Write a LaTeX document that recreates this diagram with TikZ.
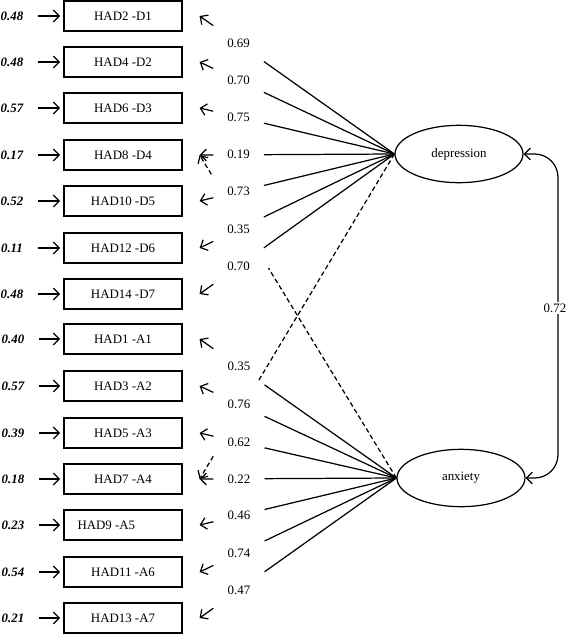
\documentclass[tikz,border=0pt]{standalone}
\usepackage{fontspec}
\setmainfont{Liberation Serif}
\usetikzlibrary{shapes.geometric,arrows.meta,calc}

\begin{document}
\begin{tikzpicture}[x=0.03cm, y=-0.03cm, line width=1.05pt, >={Straight Barb[length=5pt,width=10pt]},
  item/.style={draw,rectangle,minimum width=3.54cm,minimum height=0.9cm,inner sep=0pt,font=\fontsize{11pt}{13pt}\selectfont},
  latent/.style={draw,ellipse,minimum width=3.84cm,minimum height=1.72cm,inner sep=0pt,font=\fontsize{11pt}{13pt}\selectfont},
  err/.style={inner sep=0pt,font=\fontsize{11pt}{13pt}\selectfont\bfseries\itshape},
  coef/.style={inner sep=1pt,font=\fontsize{11pt}{13pt}\selectfont},
  cross/.style={dash pattern=on 4pt off 2.5pt}]
\useasboundingbox (0,0) rectangle (567,634);

% observed items
\node [item](D1) at (123,16) {HAD2 -D1};
\node [item](D2) at (123,62) {HAD4 -D2};
\node [item](D3) at (123,108) {HAD6 -D3};
\node [item](D4) at (123,155) {HAD8 -D4};
\node [item](D5) at (123,201) {HAD10 -D5};
\node [item](D6) at (123,248) {HAD12 -D6};
\node [item](D7) at (123,294) {HAD14 -D7};
\node [item](A1) at (123,339) {HAD1 -A1};
\node [item](A2) at (123,386) {HAD3 -A2};
\node [item](A3) at (123,433) {HAD5 -A3};
\node [item](A4) at (123,479) {HAD7 -A4};
\node [item](A5) at (123,525) {HAD9 -A5\hspace*{1cm}};
\node [item](A6) at (123,572) {HAD11 -A6};
\node [item](A7) at (123,618) {HAD13 -A7};

% error terms
\node [err](eD1) at (12,16) {0.48};
\node [err](eD2) at (12,62) {0.48};
\node [err](eD3) at (12,108) {0.57};
\node [err](eD4) at (12,155) {0.17};
\node [err](eD5) at (12,201) {0.52};
\node [err](eD6) at (12,248) {0.11};
\node [err](eD7) at (12,294) {0.48};
\node [err](eA1) at (13,339) {0.40};
\node [err](eA2) at (13,386) {0.57};
\node [err](eA3) at (13,433) {0.39};
\node [err](eA4) at (13,479) {0.18};
\node [err](eA5) at (13,525) {0.23};
\node [err](eA6) at (13,572) {0.54};
\node [err](eA7) at (13,618) {0.21};

% factors
\node [latent](dep) at (459,154) {depression};
\node [latent](anx) at (461,478) {anxiety};

\foreach \b in {D1,D2,D3,D4,D5,D6,D7,A1,A2,A3,A4,A5,A6,A7}
  \draw [->, shorten <=0.42cm, shorten >=0.1cm] (e\b.east) -- (\b.west);

% loadings
\foreach \b/\v/\f in {D1/0.69/dep, D2/0.70/dep, D3/0.75/dep, D4/0.19/dep, D5/0.73/dep, D6/0.35/dep, D7/0.70/dep,
                      A1/0.35/anx, A2/0.76/anx, A3/0.62/anx, A4/0.22/anx, A5/0.46/anx, A6/0.74/anx, A7/0.47/anx} {
  \coordinate (t\b) at ($(\b.east)+(17,0)$);
  \draw (\f.west) -- ($(\f.west)!0.67!(t\b)$);
  \draw [->] ($(\f.west)!0.93!(t\b)$) -- (t\b);
  \path (\f.west) -- (t\b) node [coef,pos=0.8] (c\b) {\v};
}

% cross loadings
\draw [cross] (dep.west) -- ($(dep.west)!0.70!(tA4)$);
\draw [cross,->] ($(dep.west)!0.93!(tA4)$) -- (tA4);
\draw [cross] (anx.west) -- ($(anx.west)!0.65!(tD4)$);
\draw [cross,->] ($(anx.west)!0.94!(tD4)$) -- (tD4);

% correlation
\draw [<->, rounded corners=0.7cm] (dep.east) -- (558,154) -- (558,478) -- (anx.east);
\node [coef,fill=white](r) at (555,308) {0.72};
\end{tikzpicture}
\end{document}
